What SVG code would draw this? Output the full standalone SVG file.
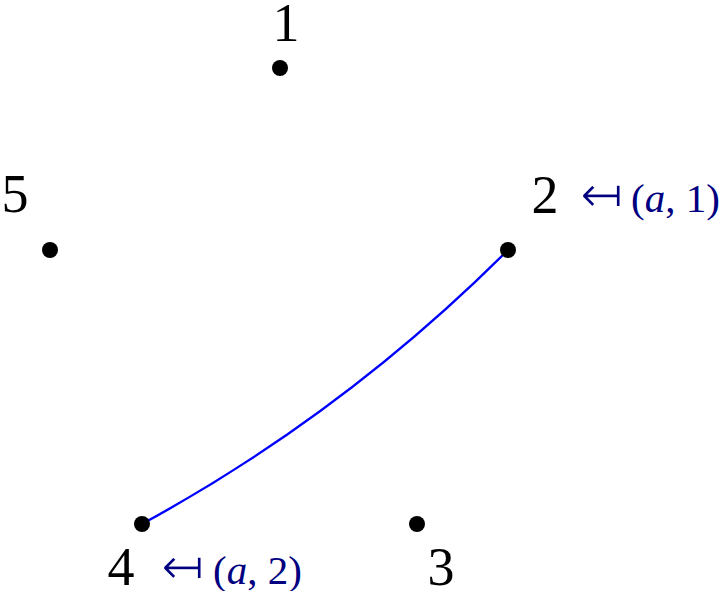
<svg xmlns="http://www.w3.org/2000/svg" width="722" height="591" viewBox="0 0 722 591">
<style>
.dot{fill:#000}
.lbl{font-family:"Liberation Serif","DejaVu Serif",serif;font-size:54px;fill:#000;text-anchor:middle}
.ann{font-family:"Liberation Serif","DejaVu Serif",serif;font-size:41px;fill:#000080}
.arr{font-family:"DejaVu Sans",sans-serif;font-size:52px;fill:#000080;stroke:#fff;stroke-width:1.6px}
.edge{fill:none;stroke:#0000ff;stroke-width:2.4}
</style>
<rect width="722" height="591" fill="#fff"/>
<g id="edges">
<path class="edge" d="M142,524 C276,451 400,358 508,250"/>
</g>
<g id="n1"><circle class="dot" cx="280" cy="68" r="8"/><text class="lbl" x="286" y="41">1</text></g>
<g id="n2"><circle class="dot" cx="508" cy="250" r="8"/><text class="lbl" x="545" y="213">2</text>
<text class="arr" x="580" y="212">↤</text><text class="ann" x="631" y="212">(<tspan font-style="italic">a</tspan>, 1)</text></g>
<g id="n3"><circle class="dot" cx="417" cy="524" r="8"/><text class="lbl" x="441" y="585">3</text></g>
<g id="n4"><circle class="dot" cx="142" cy="524" r="8"/><text class="lbl" x="121" y="585">4</text>
<text class="arr" x="161" y="584">↤</text><text class="ann" x="213" y="584">(<tspan font-style="italic">a</tspan>, 2)</text></g>
<g id="n5"><circle class="dot" cx="50" cy="250" r="8"/><text class="lbl" x="15" y="212">5</text></g>
</svg>
